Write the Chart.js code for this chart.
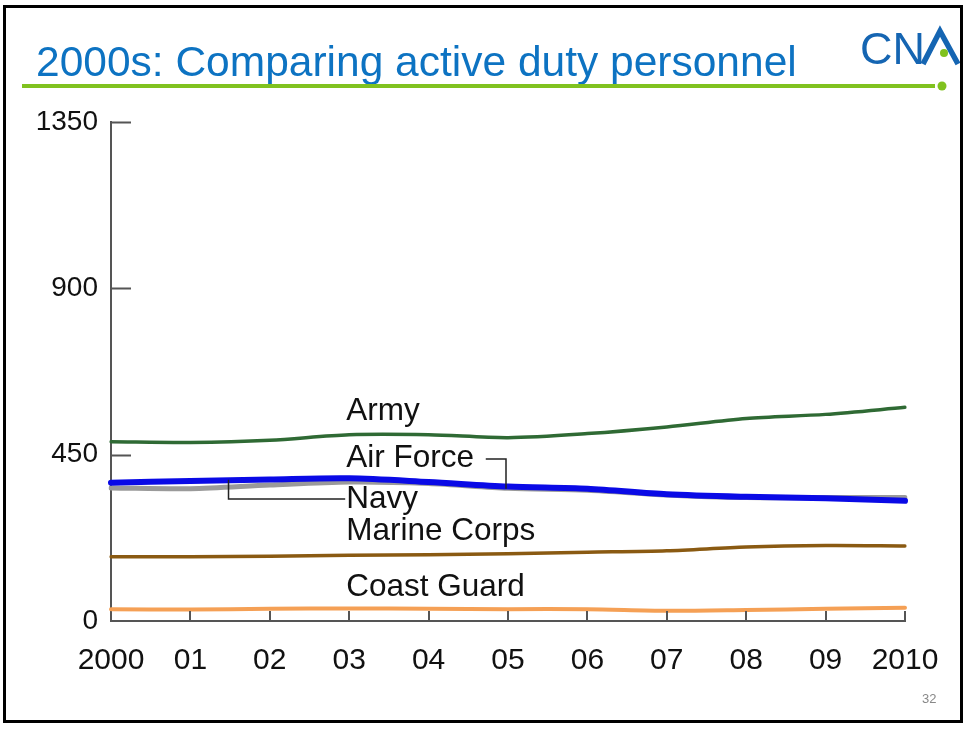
<!DOCTYPE html>
<html>
<head>
<meta charset="utf-8">
<script src="https://cdn.jsdelivr.net/npm/chart.js@4"></script>
<style>
  html, body { margin: 0; padding: 0; background: #fff; }
  #chart { position: absolute; left: 0; top: 0; }
</style>
</head>
<body>
<canvas id="chart" width="965" height="730"></canvas>
<script>
// years along the bottom
years = ['2000', '01', '02', '03', '04', '05', '06', '07', '08', '09', '2010'];
yTicks = [0, 450, 900, 1350];

// thousands of personnel
army = [485, 483, 489, 504, 504, 496, 507, 525, 548, 559, 578];
airForce = [374, 379, 383, 386, 376, 364, 358, 343, 336, 332, 325];
navy = [360, 358, 368, 376, 372, 359, 354, 341, 334, 334, 334];
marineCorps = [174, 174, 175, 178, 179, 182, 186, 190, 200, 204, 203];
coastGuard = [32, 31, 33, 34, 33, 32, 32, 28, 30, 33, 36];

var FONT = '"Liberation Sans", Arial, sans-serif';

// where the series names sit (x index, y value)
var seriesLabels = [
  { text: 'Army', x: 3, y: 568 },
  { text: 'Air Force', x: 3, y: 441 },
  { text: 'Navy', x: 3, y: 330 },
  { text: 'Marine Corps', x: 3, y: 243 },
  { text: 'Coast Guard', x: 3, y: 91 }
];

var slideDecor = {
  id: 'slideDecor',
  beforeDraw(chart) {
    var ctx = chart.ctx;
    ctx.save();
    ctx.fillStyle = '#fff';
    ctx.fillRect(0, 0, chart.width, chart.height);
    ctx.restore();
  },
  afterDraw(chart) {
    var ctx = chart.ctx;
    ctx.save();
    // title
    ctx.fillStyle = '#0d73c2';
    ctx.font = '42.5px ' + FONT;
    ctx.textBaseline = 'alphabetic';
    ctx.fillText('2000s: Comparing active duty personnel', 36, 76);
    // green rule with dot
    ctx.fillStyle = '#80c21f';
    ctx.fillRect(22, 84, 913, 4);
    ctx.beginPath();
    ctx.arc(942, 86, 4.5, 0, Math.PI * 2);
    ctx.fill();
    // logo
    ctx.fillStyle = '#1565b2';
    ctx.font = '45px ' + FONT;
    ctx.fillText('CN', 860, 64);
    ctx.strokeStyle = '#1565b2';
    ctx.lineWidth = 5.5;
    ctx.beginPath();
    ctx.moveTo(923, 64);
    ctx.lineTo(940, 31);
    ctx.lineTo(958, 64);
    ctx.stroke();
    ctx.fillStyle = '#80c21f';
    ctx.beginPath();
    ctx.arc(944, 53, 4, 0, Math.PI * 2);
    ctx.fill();
    // page number
    ctx.fillStyle = '#888';
    ctx.font = '13px ' + FONT;
    ctx.fillText('32', 922, 703);
    // frame
    ctx.strokeStyle = '#000';
    ctx.lineWidth = 3;
    ctx.strokeRect(4.5, 6.5, 957, 715);
    ctx.restore();
  }
};

var axisMarks = {
  id: 'axisMarks',
  afterDatasetsDraw(chart) {
    var ctx = chart.ctx;
    var xs = chart.scales.x, ys = chart.scales.y;
    var area = chart.chartArea;
    ctx.save();
    ctx.strokeStyle = '#555';
    ctx.lineWidth = 2;
    ctx.beginPath();
    yTicks.forEach(function (v) {
      if (v === 0) return;
      var py = Math.round(ys.getPixelForValue(v)) + 0.5;
      ctx.moveTo(area.left, py);
      ctx.lineTo(area.left + 20, py);
    });
    years.forEach(function (y, i) {
      if (i === 0) return;
      var px = Math.round(xs.getPixelForValue(i));
      ctx.moveTo(px, area.bottom);
      ctx.lineTo(px, area.bottom - 10);
    });
    ctx.stroke();

    // series names
    ctx.fillStyle = '#111';
    ctx.font = '31.5px ' + FONT;
    ctx.textBaseline = 'middle';
    seriesLabels.forEach(function (l) {
      ctx.fillText(l.text, xs.getPixelForValue(l.x) - 3, ys.getPixelForValue(l.y));
    });

    // leader lines
    ctx.strokeStyle = '#222';
    ctx.lineWidth = 1.5;
    ctx.beginPath();
    var afY = ys.getPixelForValue(438);
    var afX = xs.getPixelForValue(5) - 2;
    ctx.moveTo(xs.getPixelForValue(4.72), afY);
    ctx.lineTo(afX, afY);
    ctx.lineTo(afX, ys.getPixelForValue(airForce[5] - 6));
    var nvY = ys.getPixelForValue(330);
    var nvX = xs.getPixelForValue(1.48);
    ctx.moveTo(xs.getPixelForValue(3) - 4, nvY);
    ctx.lineTo(nvX, nvY);
    ctx.lineTo(nvX, ys.getPixelForValue(382));
    ctx.stroke();
    ctx.restore();
  }
};

function series(data, color, width) {
  return {
    data: data,
    borderColor: color,
    borderWidth: width,
    pointRadius: 0,
    fill: false,
    tension: 0.3,
    borderCapStyle: 'round'
  };
}

new Chart(document.getElementById('chart'), {
  type: 'line',
  data: {
    labels: years,
    datasets: [
      series(army, '#2f6a34', 3.5),
      series(airForce, '#0a0ae6', 6),
      series(navy, '#9a9a9a', 5),
      series(marineCorps, '#8a5a12', 3.5),
      series(coastGuard, '#f5a055', 4)
    ]
  },
  options: {
    responsive: false,
    animation: false,
    devicePixelRatio: 1,
    layout: { padding: { left: 0, top: 122, right: 60, bottom: 0 } },
    plugins: { legend: { display: false }, tooltip: { enabled: false } },
    scales: {
      x: {
        type: 'category',
        offset: false,
        grid: { display: true, drawOnChartArea: false, drawTicks: false },
        border: { display: true, color: '#555', width: 2 },
        ticks: { color: '#111', font: { family: FONT, size: 30 }, padding: 22, maxRotation: 0, autoSkip: false },
        afterFit(s) { s.height = 109; }
      },
      y: {
        min: 0,
        max: 1350,
        afterBuildTicks(s) { s.ticks = yTicks.map(function (v) { return { value: v }; }); },
        grid: { display: true, drawOnChartArea: false, drawTicks: false },
        border: { display: true, color: '#555', width: 2 },
        ticks: { color: '#111', font: { family: FONT, size: 28 }, padding: 13, callback: function (v) { return String(v); } },
        afterFit(s) { s.width = 111; }
      }
    }
  },
  plugins: [slideDecor, axisMarks]
});
</script>
</body>
</html>
